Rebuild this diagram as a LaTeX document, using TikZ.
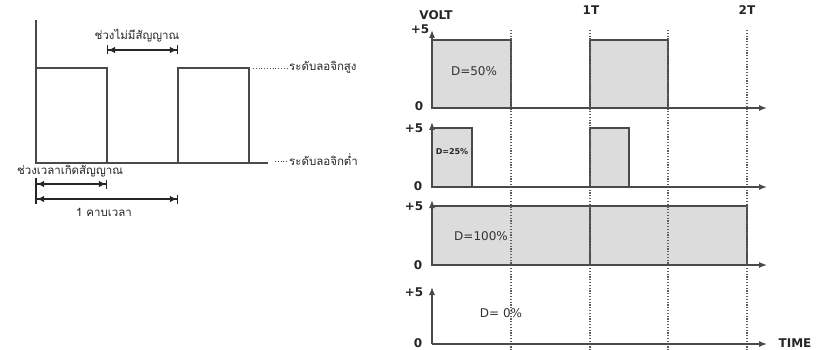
\documentclass[tikz,border=0pt]{standalone}
\usepackage{fontspec}
\setmainfont{DejaVu Sans}
\newfontfamily\thaifont[Script=Thai]{Loma}
\usetikzlibrary{arrows.meta}
\definecolor{ln}{HTML}{4A4A4A}
\definecolor{fl}{HTML}{DCDCDC}
\begin{document}
\begin{tikzpicture}[x=1pt,y=-1pt,
  wave/.style={draw=ln, line width=1.3pt},
  pulse/.style={draw=ln, fill=fl, line width=1.3pt},
  gridline/.style={draw=ln!90, line width=1.1pt, dash pattern=on 1.2pt off 1.6pt},
  levelline/.style={draw=ln, dotted, line width=0.8pt},
  axis/.style={draw=ln, line width=1.2pt, -{Latex[length=8pt,width=6pt]}},
  dim/.style={draw=black!85, line width=1.1pt, {Bar[width=9pt]Latex[length=7pt,width=6.5pt]}-{Latex[length=7pt,width=6.5pt]Bar[width=9pt]}},
  th/.style={font=\thaifont\fontsize{11.5}{12}\selectfont, inner sep=0pt, text=black!85},
  lab/.style={font=\bfseries\fontsize{12}{12}\selectfont, inner sep=0pt, text=black!85},
  dlab/.style={font=\fontsize{12}{12}\selectfont, inner sep=0pt, text=black!80},
  ]
\useasboundingbox (0,0) rectangle (816,350);
% ---------- left diagram ----------
\coordinate (o) at (36,163);
\coordinate (ytop) at (36,20);
\coordinate (xend) at (268,163);
\draw[wave] (ytop) -- (o) -- (xend);
\draw[wave] (o) -- (36,68) -- (107,68) -- (107,163);
\draw[wave] (178,163) -- (178,68) -- (249,68) -- (249,163);
\coordinate (hiA) at (253,68);
\coordinate (hiB) at (288,68);
\coordinate (loA) at (275,161);
\coordinate (loB) at (288,161);
\draw[levelline] (hiA) -- (hiB);
\draw[levelline] (loA) -- (loB);
\node[th, anchor=west] (hi) at (289,67) {ระดับลอจิกสูง};
\node[th, anchor=west] (lo) at (289,160) {ระดับลอจิกต่ำ};
% dimension arrows
\coordinate (d1a) at (107,50);
\coordinate (d1b) at (178,50);
\draw[dim] (d1a) -- (d1b);
\node[th] (off) at (137,36) {ช่วงไม่มีสัญญาณ};
\coordinate (d2a) at (36,184);
\coordinate (d2b) at (107,184);
\draw[dim] (d2a) -- (d2b);
\coordinate (d3a) at (36,199);
\coordinate (d3b) at (178,199);
\draw[dim] (d3a) -- (d3b);
\draw[draw=black!85, line width=1.1pt] (36,178) -- (36,204);
\node[th] (on) at (70,171) {ช่วงเวลาเกิดสัญญาณ};
\node[th] (per) at (104,212) {1 คาบเวลา};
% ---------- right diagram ----------
% pulses
\draw[pulse] (432,108) rectangle (511,40);
\draw[pulse] (590,108) rectangle (668,40);
\draw[pulse] (432,187) rectangle (472,128);
\draw[pulse] (590,187) rectangle (629,128);
\draw[pulse] (432,265) rectangle (747,206);
\draw[pulse] (590,206) -- (590,265);
% dotted time lines
\foreach \x/\n in {511/ta,590/tb,668/tc,747/td}{
  \coordinate (\n top) at (\x,30);
  \coordinate (\n bot) at (\x,350);
  \draw[gridline] (\n top) -- (\n bot);
}
% axes
\foreach \b/\t/\n in {108/30/p1,187/122/p2,265/200/p3,344/287/p4}{
  \coordinate (\n o) at (432,\b);
  \coordinate (\n y) at (432,\t);
  \coordinate (\n x) at (767,\b);
  \draw[axis] (\n o) -- (\n y);
  \draw[axis] (\n o) -- (\n x);
}
% labels
\node[lab] (volt) at (436,15) {VOLT};
\node[lab] (v1) at (420,29) {+5};
\node[lab] (z1) at (419,106) {0};
\node[lab] (v2) at (414,128) {+5};
\node[lab] (z2) at (418,186) {0};
\node[lab] (v3) at (414,206) {+5};
\node[lab] (z3) at (418,265) {0};
\node[lab] (v4) at (414,292) {+5};
\node[lab] (z4) at (418,343) {0};
\node[lab] (t1) at (591,10) {1T};
\node[lab] (t2) at (747,10) {2T};
\node[lab] (time) at (795,343) {TIME};
\node[dlab] (d50) at (474,71) {D=50\%};
\node[lab, font=\bfseries\fontsize{8}{8}\selectfont] (d25) at (452,152) {D=25\%};
\node[dlab] (d100) at (481,236) {D=100\%};
\node[dlab] (d0) at (501,313) {D= 0\%};
\end{tikzpicture}
\end{document}
